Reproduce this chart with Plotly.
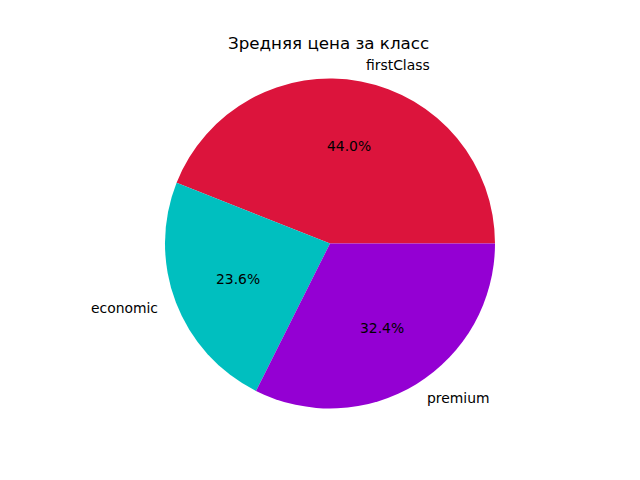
import math
import plotly.graph_objects as go

categories = ["firstClass", "economic", "premium"]
values = [44.0, 23.6, 32.4]
colors = ["#DC143C", "#00BFBF", "#9400D3"]
title = "Зредняя цена за класс"

W, H = 640, 480
cx, cy, r = 330, 243.5, 165
total = sum(values)

fig = go.Figure(go.Pie(
    labels=categories, values=values, sort=False,
    direction="counterclockwise", rotation=90 - 360 * values[0] / total,
    marker=dict(colors=colors, line=dict(width=0)),
    textinfo="none", hoverinfo="label+percent",
    domain=dict(x=[(cx - r) / W, (cx + r) / W], y=[1 - (cy + r) / H, 1 - (cy - r) / H]),
    showlegend=False,
))

annotations = []
start = 0.0
font = dict(family="DejaVu Sans", size=13.9, color="black")
for lab, v in zip(categories, values):
    frac = v / total
    mid = math.radians((start + frac / 2) * 360)
    start += frac
    c, s = math.cos(mid), math.sin(mid)
    annotations.append(dict(
        x=(cx + 1.1 * r * c) / W, y=1 - (cy - 1.1 * r * s) / H,
        xref="paper", yref="paper", text=lab, showarrow=False,
        xanchor="left" if c > 0 else "right", yanchor="middle", font=font))
    annotations.append(dict(
        x=(cx + 0.6 * r * c) / W, y=1 - (cy - 0.6 * r * s) / H,
        xref="paper", yref="paper", text=f"{100*frac:.1f}%", showarrow=False,
        xanchor="center", yanchor="middle", font=font))

annotations.append(dict(
    x=328 / W, y=1 - 43 / H, xref="paper", yref="paper", text=title,
    showarrow=False, xanchor="center", yanchor="middle",
    font=dict(family="DejaVu Sans", size=16.7, color="black")))

fig.update_layout(
    width=W, height=H, margin=dict(l=0, r=0, t=0, b=0),
    paper_bgcolor="white", plot_bgcolor="white",
    annotations=annotations,
)

fig.write_html("out.html")
